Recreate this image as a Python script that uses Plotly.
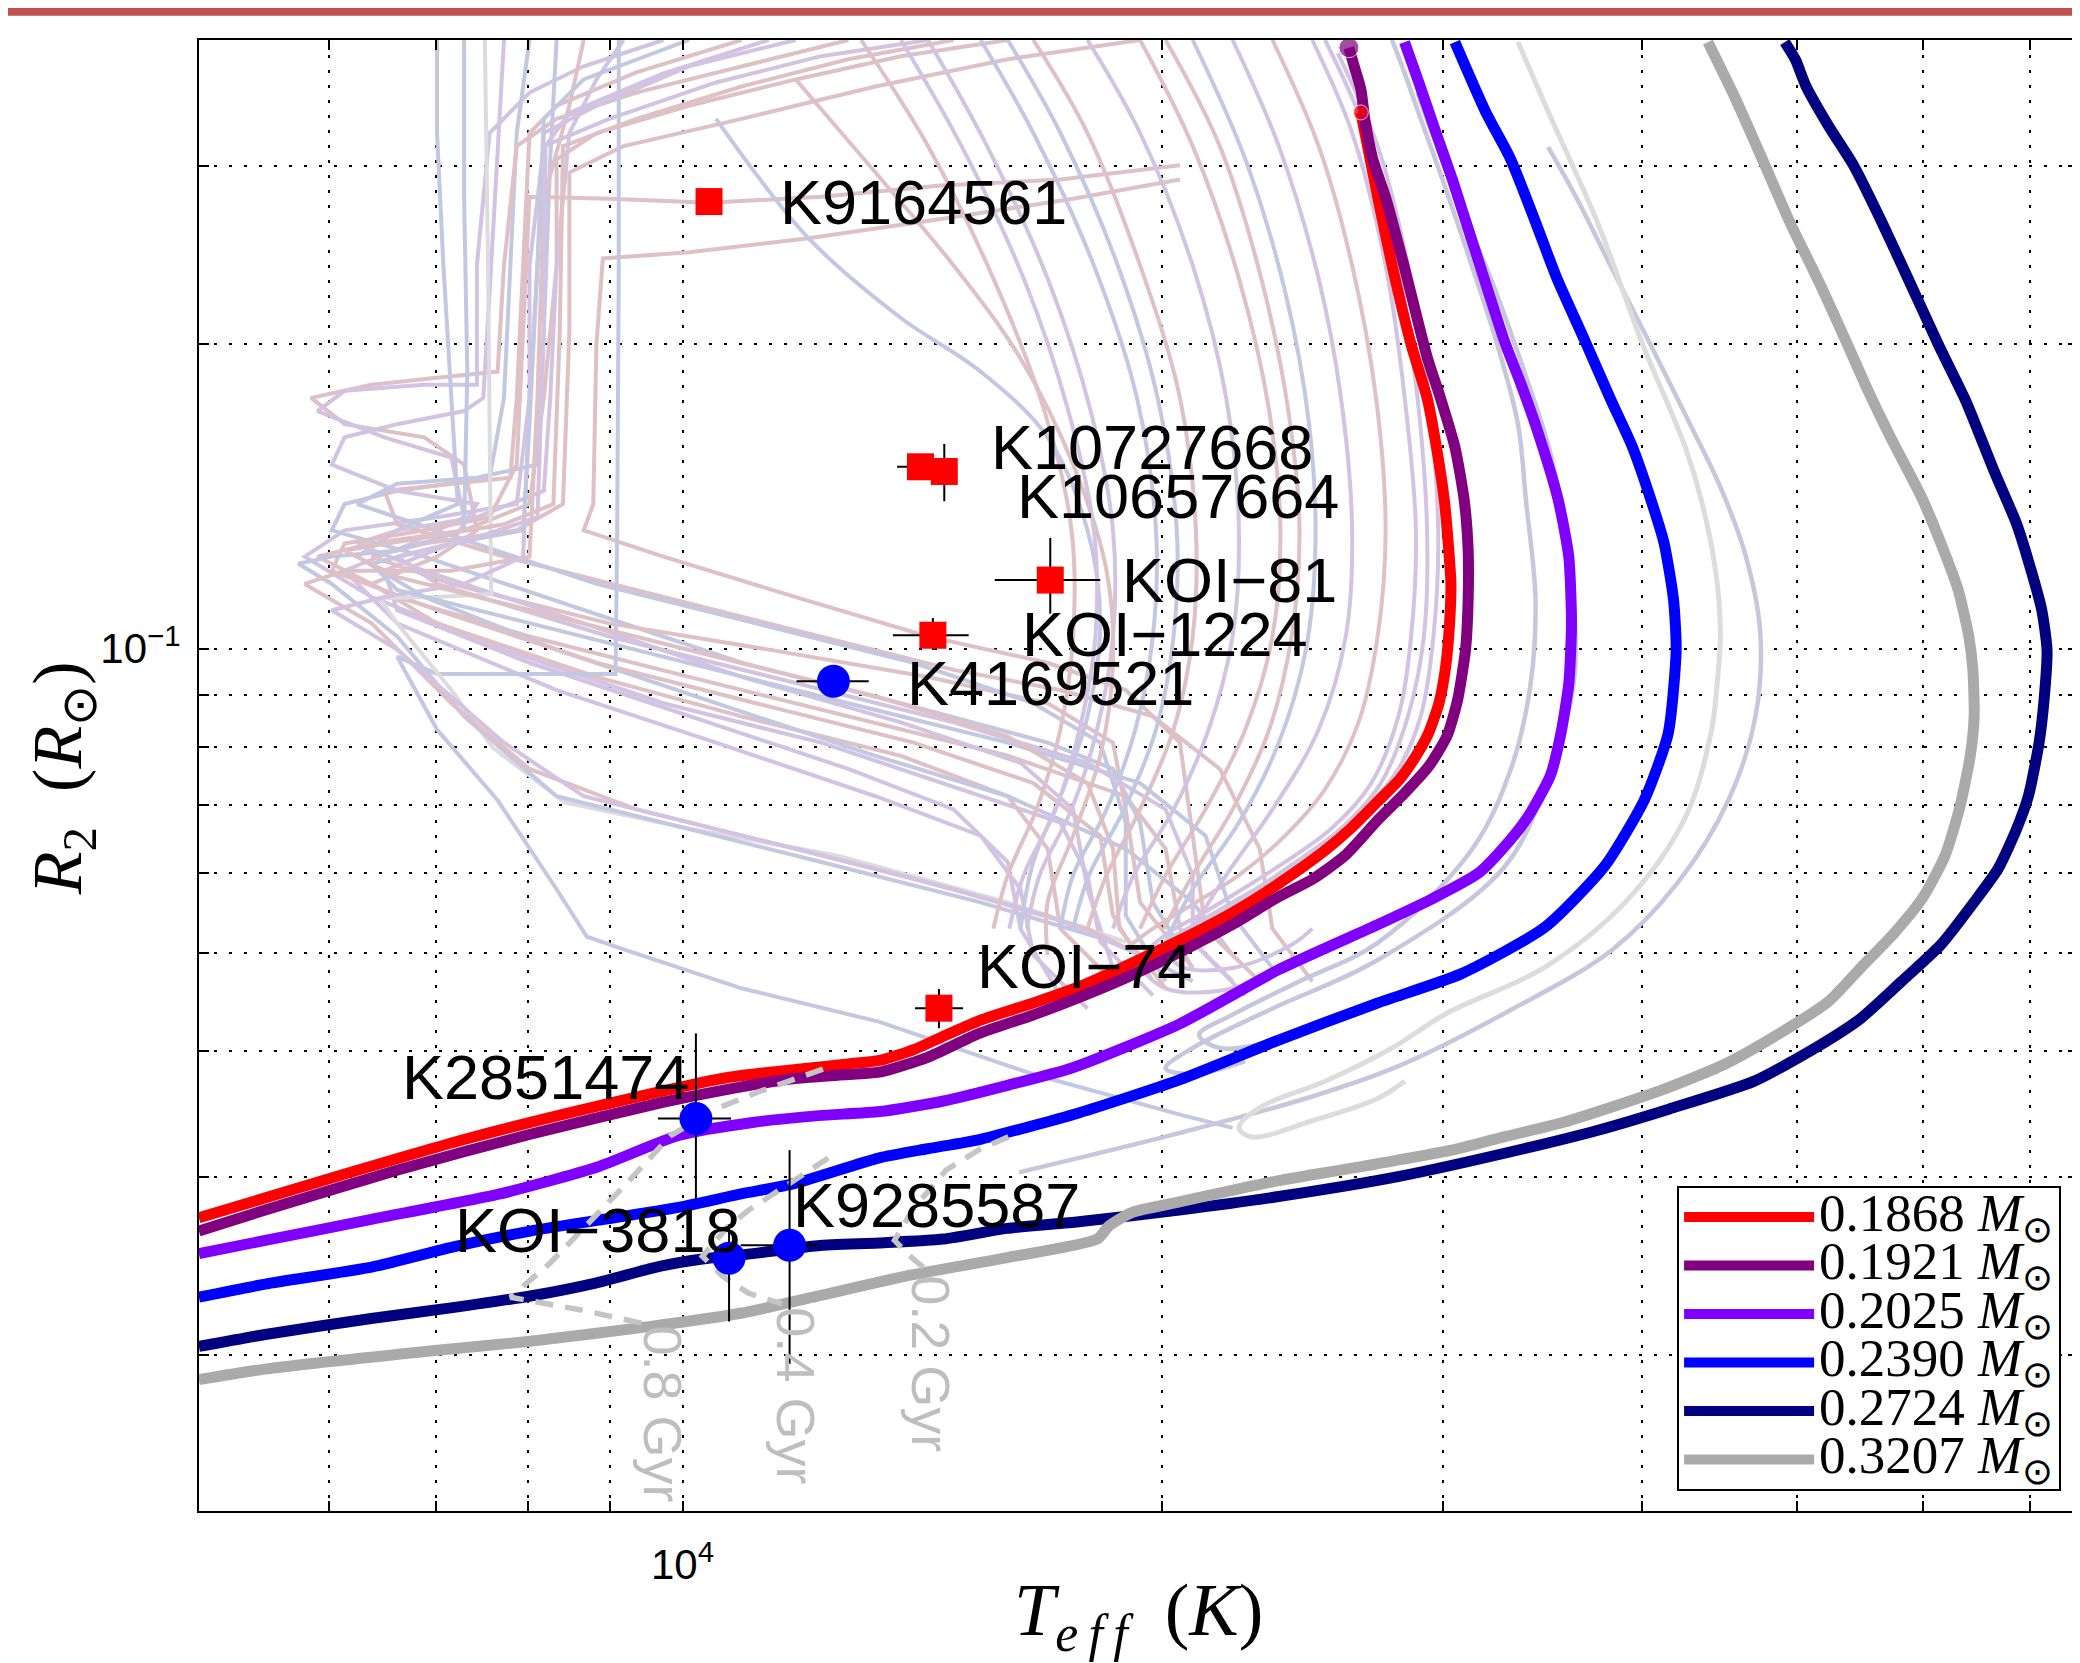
import numpy as np
import plotly.graph_objects as go

# ---------------- main evolutionary tracks (Teff [K], R2 [Rsun]) ----------------
red_T = [4973, 6023, 7294, 8832, 10693, 12702, 13323, 13977, 14522, 15380, 16603, 17719, 18983, 20493, 22123,
         23655, 25294, 26280, 27306, 28155, 28810, 29365, 29819, 30104, 30278, 30336, 30220, 30047, 29706, 29309,
         28644, 27887, 27306, 26891, 26634]
red_R = [0.02735, 0.02995, 0.03269, 0.03525, 0.03767, 0.03883, 0.03918, 0.04014, 0.04125, 0.04291, 0.04463, 0.04628,
         0.04857, 0.05144, 0.05480, 0.05856, 0.06317, 0.06650, 0.07064, 0.07418, 0.07808, 0.08243, 0.08835, 0.09586,
         0.1059, 0.1160, 0.1270, 0.1403, 0.1583, 0.1771, 0.1998, 0.2380, 0.2786, 0.3144, 0.3391]

purple_T = [4973, 5473, 6628, 8026, 9717, 10693, 11766, 12702, 13323, 14246, 15350, 16603, 17719, 18983, 20493,
            22123, 23655, 24814, 26030, 27306, 28371, 29365, 30163, 30628, 30982, 31101, 31101, 30924, 30511, 29876,
            29309, 28371, 27621, 27097, 26788, 26634, 26381, 26180]
purple_R = [0.02654, 0.02784, 0.03050, 0.03309, 0.03557, 0.03667, 0.03757, 0.03791, 0.03814, 0.03942, 0.04163,
            0.04343, 0.04517, 0.04727, 0.05006, 0.05334, 0.05683, 0.05909, 0.06241, 0.06772, 0.07194, 0.07640,
            0.08193, 0.08889, 0.09970, 0.1118, 0.1251, 0.1403, 0.1583, 0.1771, 0.1944, 0.2380, 0.2786, 0.3050,
            0.3339, 0.3578, 0.3767, 0.3930]

violet_T = [4973, 5473, 6391, 7681, 8832, 9943, 11088, 12178, 13298, 14578, 16011, 17551, 20493, 23655, 27306,
            29478, 31580, 33064, 33897, 35018, 35559, 35968, 36106, 35968, 35422, 34486, 33575, 32812, 31339, 30394,
            29706, 28919, 28371]
violet_R = [0.02521, 0.02598, 0.02727, 0.02888, 0.03069, 0.03299, 0.03400, 0.03452, 0.03484, 0.03569, 0.03701,
            0.03848, 0.04252, 0.04813, 0.05334, 0.05649, 0.06000, 0.06472, 0.06813, 0.07485, 0.08243, 0.09244,
            0.1059, 0.1232, 0.1403, 0.1617, 0.1825, 0.2004, 0.2506, 0.2914, 0.3230, 0.3656, 0.3980]

blue_T = [4973, 5473, 6391, 7183, 8026, 8832, 9943, 10879, 11766, 13273, 14246, 15350, 17719, 20493, 23655, 27306,
          30805, 34751, 37876, 40114, 41519, 41999, 41839, 41281, 40499, 39429, 38167, 36875, 35355, 34289, 33064,
          31884, 30511]
blue_R = [0.02283, 0.02352, 0.02446, 0.02560, 0.02654, 0.02719, 0.02801, 0.02888, 0.02959, 0.03134, 0.03201,
          0.03269, 0.03473, 0.03745, 0.04100, 0.04463, 0.04770, 0.05302, 0.06092, 0.07086, 0.08243, 0.09970,
          0.1118, 0.1270, 0.1403, 0.1583, 0.1771, 0.2004, 0.2324, 0.2638, 0.3050, 0.3400, 0.3980]

navy_T = [4973, 5473, 6379, 7155, 8026, 8832, 9644, 10291, 11067, 12155, 13273, 14578, 15980, 17719, 20493, 23655,
          28101, 33703, 37515, 41599, 47018, 51344, 54793, 58142, 61575, 64591, 66854, 68668, 69861, 70939, 71485,
          71759, 71212, 70129, 68668, 66470, 63854, 61339, 58700, 56496, 54274, 52335, 50660, 49892, 49133]
navy_R = [0.02041, 0.02097, 0.02175, 0.02228, 0.02289, 0.02359, 0.02446, 0.02490, 0.02521, 0.02567, 0.02583,
          0.02606, 0.02670, 0.02711, 0.02784, 0.02871, 0.03004, 0.03201, 0.03339, 0.03505, 0.03734, 0.04027,
          0.04304, 0.04684, 0.05097, 0.05615, 0.06055, 0.06630, 0.07152, 0.08070, 0.08969, 0.09970, 0.1092,
          0.1195, 0.1329, 0.1499, 0.1754, 0.1998, 0.2324, 0.2646, 0.3004, 0.3289, 0.3601, 0.3825, 0.3980]

gray_T = [4973, 5473, 6993, 8026, 9552, 10899, 12155, 13924, 15980, 18201, 18516, 19129, 20493, 23655, 26181, 30628,
          32749, 35694, 41045, 44908, 48295, 52335, 54793, 57588, 59949, 61930, 63248, 64222, 64591, 64468, 64099,
          63126, 61575, 59870, 57258, 55426, 53756, 51738, 49511, 47561, 45776, 43973]
gray_R = [0.01892, 0.01938, 0.02022, 0.02065, 0.02136, 0.02202, 0.02289, 0.02402, 0.02498, 0.02606, 0.02686,
          0.02768, 0.02836, 0.02977, 0.03059, 0.03201, 0.03289, 0.03400, 0.03655, 0.03872, 0.04125, 0.04477,
          0.04828, 0.05238, 0.05666, 0.06241, 0.06958, 0.07827, 0.08572, 0.09528, 0.1027, 0.1142, 0.1270, 0.1411,
          0.1617, 0.1798, 0.2004, 0.2288, 0.2638, 0.3050, 0.3494, 0.3980]

track_masses = ["0.1868", "0.1921", "0.2025", "0.2390", "0.2724", "0.3207"]
track_colors = ["#FF0000", "#800080", "#8000FF", "#0000FF", "#000080", "#AAAAAA"]

# ---------------- thin companion tracks (log10 Teff, log10 R) ----------------
lg_logT = [4.524, 4.543, 4.574, 4.602, 4.629, 4.639, 4.648, 4.651, 4.649, 4.645, 4.629, 4.593, 4.541, 4.479, 4.445,
           4.403, 4.362, 4.349, 4.357, 4.395, 4.436, 4.453]
lg_logR = [-0.400, -0.469, -0.579, -0.698, -0.801, -0.853, -0.923, -0.984, -1.034, -1.084, -1.167, -1.248, -1.315,
           -1.361, -1.395, -1.428, -1.454, -1.474, -1.483, -1.467, -1.445, -1.428]
lav_logT = [
    [4.445, 4.453, 4.463, 4.478, 4.495, 4.511, 4.524, 4.529, 4.535, 4.532, 4.520, 4.495, 4.436, 4.387, 4.345, 4.324,
     4.337, 4.370, 4.403],
    [4.461, 4.470, 4.486, 4.507, 4.528, 4.544, 4.554, 4.559, 4.559, 4.545, 4.516, 4.436, 4.370, 4.320, 4.303, 4.320,
     4.353],
    [4.543, 4.561, 4.582, 4.607, 4.632, 4.652, 4.667, 4.676, 4.673, 4.656, 4.624, 4.583, 4.520, 4.449, 4.395, 4.312,
     4.211],
]
lav_logR = [
    [-0.398, -0.431, -0.476, -0.542, -0.621, -0.699, -0.778, -0.853, -0.951, -1.034, -1.117, -1.199, -1.291, -1.329,
     -1.362, -1.382, -1.395, -1.388, -1.369],
    [-0.450, -0.490, -0.555, -0.634, -0.726, -0.804, -0.883, -0.951, -1.034, -1.117, -1.215, -1.308, -1.356, -1.395,
     -1.415, -1.421, -1.408],
    [-0.504, -0.555, -0.621, -0.699, -0.778, -0.844, -0.909, -0.984, -1.067, -1.150, -1.232, -1.298, -1.357, -1.413,
     -1.443, -1.479, -1.518],
]

# ---------------- faint background tracks (log10 Teff, log10 R) ----------------
faint_logT = [
    [4.204, 4.137, 4.071, 4.004, 3.946, 3.921, 3.921, 3.913, 3.904, 3.863, 3.805, 3.771, 3.821, 3.904, 4.004, 4.104,
     4.204, 4.278, 4.303, 4.312, 4.345],
    [4.154, 4.087, 4.021, 3.954, 3.913, 3.904, 3.904, 3.896, 3.846, 3.788, 3.763, 3.805, 3.888, 3.988, 4.087, 4.187,
     4.237, 4.254, 4.262, 4.295],
    [3.904, 3.896, 3.892, 3.888, 3.879, 3.821, 3.788, 3.780, 3.838, 3.938, 4.037, 4.137, 4.229, 4.270, 4.287, 4.295,
     4.320],
    [4.104, 4.037, 3.971, 3.921, 3.896, 3.888, 3.884, 3.846, 3.805, 3.767, 3.788, 3.838, 3.863, 3.871, 3.846, 3.805,
     3.846, 3.946, 4.037, 4.137, 4.204, 4.229, 4.237, 4.270],
    [3.988, 3.938, 3.904, 3.879, 3.871, 3.871, 3.838, 3.788, 3.771, 3.813, 3.855, 3.863, 3.830, 3.788, 3.821, 3.921,
     4.021, 4.121, 4.187, 4.212, 4.220, 4.254],
    [4.037, 3.971, 3.921, 3.904, 3.900, 3.896, 3.892, 3.855, 3.813, 3.821, 3.888, 3.988, 4.087, 4.170, 4.237, 4.295,
     4.337, 4.362, 4.370, 4.395],
    [3.846, 3.846, 3.850, 3.855, 3.859, 3.821, 3.796, 3.838, 3.921, 4.021, 4.121, 4.204, 4.278, 4.320, 4.345],
    [3.888, 3.884, 3.879, 3.875, 3.863, 3.821, 3.788, 3.780, 3.821, 3.871, 3.855, 3.813, 3.821, 3.904, 4.004, 4.104,
     4.170, 4.204, 4.212, 4.237],
    [4.287, 4.204, 4.121, 4.037, 3.963, 3.929, 3.929, 3.925, 3.896, 3.838, 3.805, 3.855, 3.954, 4.054, 4.154, 4.229,
     4.270, 4.278, 4.287, 4.320],
    [3.921, 3.917, 3.913, 3.909, 3.871, 3.821, 3.796, 3.846, 3.946, 4.046, 4.145, 4.220, 4.262, 4.278, 4.278, 4.303],
    [3.963, 3.946, 3.929, 3.921, 3.917, 3.913, 3.871, 3.821, 3.796, 3.838, 3.938, 4.037, 4.137, 4.212, 4.245, 4.254,
     4.270],
    [4.312, 4.237, 4.162, 4.087, 4.017, 3.954, 3.904, 3.900, 3.896, 3.879, 3.838, 3.788, 3.780, 3.846, 3.946, 4.046,
     4.145, 4.220, 4.262, 4.270, 4.295],
    [4.312, 4.245, 4.162, 4.079, 4.004, 3.950, 3.946, 3.944, 3.938, 3.988, 4.071, 4.154, 4.229, 4.278, 4.312, 4.320,
     4.328, 4.362],
    [3.960, 3.960, 3.959, 3.958, 3.904, 3.846, 3.821, 3.846, 3.884, 3.921, 3.940, 3.964, 4.037, 4.123, 4.220, 4.312,
     4.345],
    [3.876, 3.878, 3.880, 3.846, 3.810, 3.821, 3.855, 3.881, 3.926, 4.004, 4.098, 4.204, 4.278],
    [3.863, 3.863, 3.865, 3.863, 3.821, 3.780, 3.759, 3.780, 3.821, 3.863, 3.921, 3.988, 4.087, 4.187, 4.270, 4.320],
    [3.938, 3.929, 3.913, 3.909, 3.904, 3.855, 3.788, 3.763, 3.805, 3.855, 3.904, 3.971, 4.071, 4.170, 4.254, 4.303],
    [4.071, 4.004, 3.946, 3.913, 3.909, 3.904, 3.900, 3.863, 3.813, 3.780, 3.821, 3.888, 3.938, 4.037, 4.137, 4.229,
     4.287],
    # bowed arcs
    [4.395, 4.420, 4.441, 4.453, 4.460, 4.457, 4.449, 4.432, 4.407, 4.378, 4.349, 4.324, 4.303, 4.287, 4.303, 4.345,
     4.370],
    [4.370, 4.399, 4.420, 4.435, 4.441, 4.436, 4.424, 4.403, 4.378, 4.349, 4.320, 4.295, 4.278],
    [4.345, 4.374, 4.399, 4.413, 4.420, 4.416, 4.399, 4.370, 4.341, 4.320],
    [4.320, 4.353, 4.378, 4.393, 4.397, 4.391, 4.374, 4.349, 4.320, 4.303],
    [4.287, 4.320, 4.349, 4.368, 4.375, 4.370, 4.353, 4.328, 4.303, 4.287],
    [4.254, 4.287, 4.320, 4.341, 4.349, 4.345, 4.330, 4.308, 4.283, 4.270],
    [4.220, 4.254, 4.287, 4.312, 4.322, 4.320, 4.308, 4.287, 4.266, 4.254],
    [4.187, 4.220, 4.258, 4.285, 4.297, 4.295, 4.284, 4.266, 4.245, 4.237],
    [4.154, 4.191, 4.229, 4.256, 4.270, 4.270, 4.260, 4.244, 4.224, 4.216],
    [4.112, 4.154, 4.195, 4.227, 4.244, 4.245, 4.237, 4.222, 4.204, 4.195],
    [4.411, 4.436, 4.455, 4.468, 4.474, 4.471, 4.463, 4.449, 4.428, 4.403, 4.374, 4.345, 4.320, 4.303, 4.312, 4.345,
     4.382, 4.395],
    [4.021, 4.079, 4.137, 4.187, 4.229, 4.254, 4.262, 4.254, 4.237, 4.220, 4.212],
    [4.071, 4.121, 4.170, 4.212, 4.245, 4.266, 4.270, 4.262, 4.245, 4.229, 4.229],
    # more left-bundle tracks
    [4.004, 3.938, 3.913, 3.909, 3.904, 3.900, 3.855, 3.805, 3.821, 3.904, 4.004, 4.104, 4.204, 4.287, 4.328, 4.345,
     4.370],
    [4.054, 3.988, 3.929, 3.914, 3.913, 3.909, 3.871, 3.821, 3.846, 3.954, 4.071, 4.170, 4.254, 4.303, 4.320, 4.320,
     4.353],
    [4.170, 4.104, 4.037, 3.971, 3.925, 3.923, 3.919, 3.888, 3.838, 3.788, 3.821, 3.921, 4.021, 4.121, 4.204, 4.254,
     4.270, 4.274, 4.303],
    # more bowed arcs
    [4.403, 4.432, 4.449, 4.461, 4.467, 4.465, 4.455, 4.438, 4.413, 4.382, 4.353, 4.328],
    [4.303, 4.337, 4.363, 4.380, 4.387, 4.382, 4.368, 4.345, 4.320, 4.302],
    [4.204, 4.237, 4.273, 4.298, 4.310, 4.308, 4.297, 4.277, 4.255, 4.245],
    [4.137, 4.175, 4.214, 4.242, 4.258, 4.259, 4.249, 4.234, 4.214, 4.205],
]
faint_logR = [
    [-0.398, -0.414, -0.437, -0.463, -0.490, -0.516, -0.621, -0.752, -0.857, -0.883, -0.896, -0.909, -0.949, -0.988,
     -1.028, -1.067, -1.106, -1.146, -1.198, -1.277, -1.329],
    [-0.398, -0.414, -0.440, -0.476, -0.503, -0.621, -0.752, -0.857, -0.870, -0.883, -0.909, -0.949, -1.001, -1.054,
     -1.093, -1.146, -1.172, -1.224, -1.290, -1.343],
    [-0.398, -0.490, -0.621, -0.752, -0.831, -0.844, -0.857, -0.883, -0.909, -0.962, -1.014, -1.054, -1.093, -1.119,
     -1.172, -1.251, -1.316],
    [-0.398, -0.424, -0.450, -0.476, -0.503, -0.621, -0.726, -0.732, -0.739, -0.752, -0.778, -0.791, -0.818, -0.883,
     -0.909, -0.936, -0.975, -1.028, -1.067, -1.106, -1.146, -1.198, -1.277, -1.329],
    [-0.398, -0.424, -0.450, -0.490, -0.621, -0.739, -0.739, -0.745, -0.765, -0.791, -0.811, -0.870, -0.896, -0.923,
     -0.975, -1.041, -1.093, -1.146, -1.185, -1.238, -1.303, -1.356],
    [-0.398, -0.430, -0.463, -0.490, -0.621, -0.752, -0.831, -0.837, -0.844, -0.877, -0.909, -0.949, -0.988, -1.021,
     -1.041, -1.067, -1.119, -1.198, -1.277, -1.329],
    [-0.398, -0.490, -0.621, -0.752, -0.857, -0.883, -0.909, -0.949, -1.001, -1.054, -1.106, -1.146, -1.198, -1.251,
     -1.303],
    [-0.398, -0.516, -0.647, -0.752, -0.765, -0.778, -0.791, -0.818, -0.844, -0.857, -0.896, -0.923, -0.962, -1.014,
     -1.067, -1.119, -1.159, -1.211, -1.277, -1.343],
    [-0.398, -0.417, -0.444, -0.476, -0.503, -0.529, -0.686, -0.857, -0.883, -0.896, -0.909, -0.936, -0.975, -1.001,
     -1.028, -1.054, -1.093, -1.159, -1.251, -1.316],
    [-0.398, -0.516, -0.686, -0.818, -0.831, -0.837, -0.857, -0.883, -0.936, -0.975, -1.014, -1.054, -1.093, -1.172,
     -1.264, -1.329],
    [-0.398, -0.437, -0.490, -0.621, -0.752, -0.844, -0.870, -0.883, -0.896, -0.923, -0.975, -1.028, -1.073, -1.113,
     -1.159, -1.238, -1.316],
    [-0.522, -0.536, -0.542, -0.553, -0.559, -0.555, -0.553, -0.686, -0.818, -0.870, -0.883, -0.896, -0.923, -0.962,
     -1.014, -1.054, -1.093, -1.133, -1.185, -1.264, -1.329],
    [-0.536, -0.555, -0.575, -0.594, -0.608, -0.614, -0.699, -0.857, -0.883, -0.909, -0.949, -0.988, -1.014, -1.041,
     -1.093, -1.185, -1.277, -1.329],
    [-0.398, -0.621, -0.883, -1.025, -1.025, -1.025, -1.008, -1.080, -1.150, -1.238, -1.285, -1.298, -1.336, -1.369,
     -1.421, -1.461, -1.474],
    [-0.398, -0.621, -0.946, -0.949, -0.950, -0.975, -1.041, -1.098, -1.152, -1.178, -1.205, -1.251, -1.290],
    [-0.398, -0.555, -0.726, -0.883, -0.903, -0.909, -0.916, -0.936, -0.988, -1.067, -1.146, -1.172, -1.211, -1.251,
     -1.290, -1.329],
    [-0.398, -0.463, -0.555, -0.752, -0.909, -0.923, -0.923, -0.936, -0.975, -1.054, -1.119, -1.159, -1.198, -1.238,
     -1.277, -1.316],
    [-0.398, -0.424, -0.463, -0.490, -0.621, -0.752, -0.909, -0.936, -0.949, -0.962, -1.001, -1.093, -1.146, -1.185,
     -1.224, -1.264, -1.303],
    # bowed arcs
    [-0.398, -0.490, -0.621, -0.752, -0.883, -0.988, -1.067, -1.133, -1.178, -1.211, -1.240, -1.264, -1.283, -1.310,
     -1.336, -1.336, -1.316],
    [-0.398, -0.503, -0.621, -0.752, -0.883, -0.988, -1.073, -1.139, -1.185, -1.224, -1.253, -1.277, -1.297],
    [-0.398, -0.503, -0.634, -0.752, -0.883, -0.988, -1.080, -1.159, -1.224, -1.277],
    [-0.398, -0.516, -0.647, -0.778, -0.896, -1.001, -1.093, -1.172, -1.238, -1.290],
    [-0.398, -0.503, -0.634, -0.765, -0.883, -0.988, -1.080, -1.159, -1.224, -1.277],
    [-0.398, -0.490, -0.621, -0.752, -0.883, -0.988, -1.080, -1.159, -1.224, -1.277],
    [-0.398, -0.490, -0.621, -0.752, -0.883, -0.988, -1.080, -1.159, -1.224, -1.277],
    [-0.398, -0.490, -0.621, -0.752, -0.883, -0.988, -1.080, -1.159, -1.224, -1.277],
    [-0.398, -0.503, -0.634, -0.765, -0.883, -0.988, -1.080, -1.159, -1.224, -1.277],
    [-0.398, -0.503, -0.634, -0.765, -0.883, -0.988, -1.080, -1.159, -1.224, -1.277],
    [-0.411, -0.503, -0.621, -0.752, -0.883, -0.988, -1.067, -1.119, -1.159, -1.192, -1.224, -1.251, -1.274, -1.293,
     -1.314, -1.316, -1.293, -1.277],
    [-0.476, -0.594, -0.673, -0.726, -0.791, -0.883, -0.975, -1.067, -1.146, -1.211, -1.277],
    [-0.437, -0.529, -0.621, -0.713, -0.818, -0.923, -1.014, -1.106, -1.185, -1.251, -1.303],
    # more left-bundle tracks
    [-0.398, -0.437, -0.476, -0.621, -0.778, -0.883, -0.896, -0.916, -0.942, -0.975, -1.014, -1.054, -1.093, -1.133,
     -1.185, -1.264, -1.316],
    [-0.398, -0.431, -0.470, -0.503, -0.686, -0.870, -0.890, -0.909, -0.936, -0.988, -1.034, -1.073, -1.113, -1.159,
     -1.224, -1.290, -1.343],
    [-0.398, -0.417, -0.444, -0.476, -0.503, -0.686, -0.857, -0.877, -0.890, -0.903, -0.929, -0.969, -1.008, -1.047,
     -1.087, -1.133, -1.198, -1.277, -1.336],
    # more bowed arcs
    [-0.398, -0.503, -0.621, -0.752, -0.883, -0.988, -1.067, -1.133, -1.178, -1.214, -1.245, -1.270],
    [-0.398, -0.503, -0.634, -0.765, -0.883, -0.988, -1.080, -1.159, -1.224, -1.277],
    [-0.398, -0.490, -0.621, -0.752, -0.883, -0.988, -1.080, -1.159, -1.224, -1.277],
    [-0.398, -0.503, -0.634, -0.765, -0.883, -0.988, -1.080, -1.159, -1.224, -1.277],
]
PINK, LAV, BLU, LGR = "#DEC0C5", "#D2C3E2", "#C2C7E2", "#DCDCE0"
faint_color = [PINK, LAV, BLU, PINK, LAV, PINK, BLU, LAV, PINK, BLU, LAV, PINK, PINK, BLU, LGR, BLU, PINK, LAV,
               LAV, PINK, LAV, BLU, PINK, LAV, PINK, BLU, LAV, PINK, LAV, BLU, PINK,
               BLU, LAV, PINK,
               LAV, PINK, BLU, LAV]
faint_shape = ["linear"] * 18 + ["spline"] * 13 + ["linear"] * 3 + ["spline"] * 4

# ---------------- isochrones ----------------
iso08_T = [12248, 11217, 10490, 9829, 9177, 8748, 8260, 7799, 8665, 9552]
iso08_R = [0.03837, 0.03655, 0.03505, 0.03299, 0.02933, 0.02711, 0.02468, 0.02283, 0.02215, 0.02142]
iso04_T = [12343, 11587, 11004, 10672, 10291, 10591, 11004, 11543]
iso04_R = [0.03134, 0.02941, 0.02784, 0.02678, 0.02506, 0.02395, 0.02303, 0.02248]
iso02_T = [16011, 15380, 14634, 13977, 13581, 13924, 14220]
iso02_R = [0.03289, 0.03201, 0.03050, 0.02801, 0.02598, 0.02498, 0.02430]
gyr_text = ["0.8 Gyr", "0.4 Gyr", "0.2 Gyr"]
gyr_T = [9717, 11766, 14328]
gyr_R = [0.01749, 0.01825, 0.01962]

# ---------------- observed systems ----------------
sq_T = [10390, 14101, 14594, 17008, 14356, 14482]
sq_R = [0.2768, 0.1513, 0.1497, 0.1169, 0.1031, 0.04409]
sq_T_plus = [0, 282, 265, 1272, 761, 511]
sq_T_minus = [0, 468, 348, 1310, 806, 492]
sq_R_plus = [0, 0, 0.0097, 0.0118, 0.0041, 0.00197]
sq_R_minus = [0, 0, 0.0098, 0.0086, 0.0034, 0.00196]

ci_T = [12435, 10195, 10695, 11672]
ci_R = [0.09283, 0.03429, 0.02495, 0.02569]
ci_T_plus = [649, 531, 0, 471]
ci_T_minus = [646, 545, 0, 797]
ci_R_plus = [0, 0.00734, 0.00200, 0.00622]
ci_R_minus = [0, 0.00576, 0.00335, 0.00607]

label_text = ["K9164561", "K10727668", "K10657664", "KOI\u221281", "KOI\u22121224", "K4169521", "KOI\u221274",
              "K2851474", "KOI\u22123818", "K9285587"]
label_T = [11477, 15558, 16165, 18802, 16288, 13791, 15262, 6653, 7182, 11699]
label_R = [0.2768, 0.1583, 0.1416, 0.1170, 0.1034, 0.09244, 0.04857, 0.03767, 0.02658, 0.02814]

x_grid = [6000, 7000, 8000, 9000, 10000, 20000, 30000, 40000, 50000, 60000, 70000]
x_text = ["", "", "", "", "10<sup>4</sup>", "", "", "", "", "", ""]
y_grid = [0.02, 0.03, 0.04, 0.05, 0.06, 0.07, 0.08, 0.09, 0.1, 0.2, 0.3]
y_text = ["", "", "", "", "", "", "", "", "10<sup>\u22121</sup>", "", ""]

# ---------------- figure ----------------
fig = go.Figure()

for lt, lr, col, shp in zip(faint_logT, faint_logR, faint_color, faint_shape):
    fig.add_trace(go.Scatter(x=np.power(10.0, lt), y=np.power(10.0, lr), mode="lines",
                             line=dict(color=col, width=4, shape=shp), showlegend=False, hoverinfo="skip"))
for lt, lr in zip(lav_logT, lav_logR):
    fig.add_trace(go.Scatter(x=np.power(10.0, lt), y=np.power(10.0, lr), mode="lines",
                             line=dict(color="#C6C6DC", width=4.5, shape="spline"), showlegend=False,
                             hoverinfo="skip"))
fig.add_trace(go.Scatter(x=np.power(10.0, lg_logT), y=np.power(10.0, lg_logR), mode="lines",
                         line=dict(color="#DCDCDC", width=5, shape="spline"), showlegend=False, hoverinfo="skip"))

tracks = [(red_T, red_R), (purple_T, purple_R), (violet_T, violet_R), (blue_T, blue_R), (navy_T, navy_R),
          (gray_T, gray_R)]
for (T, R), m, col in zip(tracks, track_masses, track_colors):
    fig.add_trace(go.Scatter(
        x=T, y=R, mode="lines", line=dict(color=col, width=11, shape="spline", smoothing=0.6),
        name=f'<span style="font-size:53px">{m} <i>M</i><sub>\u2299</sub></span>', hoverinfo="skip"))

fig.add_trace(go.Scatter(x=[red_T[-1], purple_T[-1]], y=[red_R[-1], purple_R[-1]], mode="markers",
                         marker=dict(color=[track_colors[0], track_colors[1]], size=[15, 20]), showlegend=False,
                         hoverinfo="skip"))

for T, R in [(iso08_T, iso08_R), (iso04_T, iso04_R), (iso02_T, iso02_R)]:
    fig.add_trace(go.Scatter(x=T, y=R, mode="lines", line=dict(color="#C4C4C4", width=5.5, dash="18px,12px"),
                             showlegend=False, hoverinfo="skip"))

fig.add_trace(go.Scatter(
    x=sq_T, y=sq_R, mode="markers", showlegend=False,
    marker=dict(symbol="square", size=27, color="#FF0000", line=dict(width=0)),
    error_x=dict(type="data", symmetric=False, array=sq_T_plus, arrayminus=sq_T_minus, color="black",
                 thickness=2, width=0),
    error_y=dict(type="data", symmetric=False, array=sq_R_plus, arrayminus=sq_R_minus, color="black",
                 thickness=2, width=0)))
fig.add_trace(go.Scatter(
    x=ci_T, y=ci_R, mode="markers", showlegend=False,
    marker=dict(symbol="circle", size=33, color="#0000FF", line=dict(width=0)),
    error_x=dict(type="data", symmetric=False, array=ci_T_plus, arrayminus=ci_T_minus, color="black",
                 thickness=2, width=0),
    error_y=dict(type="data", symmetric=False, array=ci_R_plus, arrayminus=ci_R_minus, color="black",
                 thickness=2, width=0)))

annotations = []
for t, T, R in zip(label_text, label_T, label_R):
    annotations.append(dict(x=np.log10(T), y=np.log10(R), xref="x", yref="y", text=t, showarrow=False,
                            xanchor="left", yanchor="middle",
                            font=dict(family="Liberation Sans", size=63, color="black")))
for t, T, R in zip(gyr_text, gyr_T, gyr_R):
    annotations.append(dict(x=np.log10(T), y=np.log10(R), xref="x", yref="y", text=t, showarrow=False,
                            textangle=90, xanchor="center", yanchor="middle",
                            font=dict(family="Liberation Sans", size=54, color="#BEBEBE")))
annotations.append(dict(x=0.5, y=-0.071, xref="paper", yref="paper", showarrow=False,
                        text="<i>T</i><sub><i>e\u2009f\u2009f</i></sub>\u00a0\u00a0(<i>K</i>)",
                        xanchor="center", yanchor="middle",
                        font=dict(family="Liberation Serif", size=74, color="black")))
annotations.append(dict(x=-0.072, y=0.498, xref="paper", yref="paper", showarrow=False, textangle=-90,
                        text="<i>R</i><sub>2</sub>\u00a0\u00a0(<i>R</i><sub>\u2299</sub>)", xanchor="center",
                        yanchor="middle", font=dict(family="Liberation Serif", size=70, color="black")))

axis_common = dict(type="log", tickmode="array", ticks="inside", ticklen=10, tickwidth=2, tickcolor="black",
                   showgrid=True, gridcolor="black", gridwidth=2.2, griddash="3px,12px", showline=True,
                   linecolor="black", linewidth=2, mirror="ticks", zeroline=False,
                   tickfont=dict(family="Liberation Sans", size=42, color="black"))

# the page adds an 8 px body margin, so the figure is 8 px smaller and margins shifted accordingly
fig.update_layout(
    width=2072, height=1655,
    margin=dict(l=191, r=0, t=32, b=152),
    paper_bgcolor="white", plot_bgcolor="white",
    xaxis=dict(range=[3.6967, 4.8753], tickvals=x_grid, ticktext=x_text, ticklabelstandoff=16, **axis_common),
    yaxis=dict(range=[-1.853, -0.398], tickvals=y_grid, ticktext=y_text, ticklabelstandoff=8, **axis_common),
    legend=dict(x=0.991, y=0.0138, xanchor="right", yanchor="bottom", bgcolor="white", bordercolor="black",
                borderwidth=2, font=dict(family="Liberation Serif", size=35, color="black"), itemwidth=130,
                tracegroupgap=0),
    annotations=annotations,
    shapes=[dict(type="rect", xref="paper", yref="paper", x0=-0.2, x1=1.1, y0=1.0165, y1=1.03,
                 fillcolor="#C0504D", line=dict(width=0), layer="above")],
    showlegend=True,
)

fig.write_html("out.html")
